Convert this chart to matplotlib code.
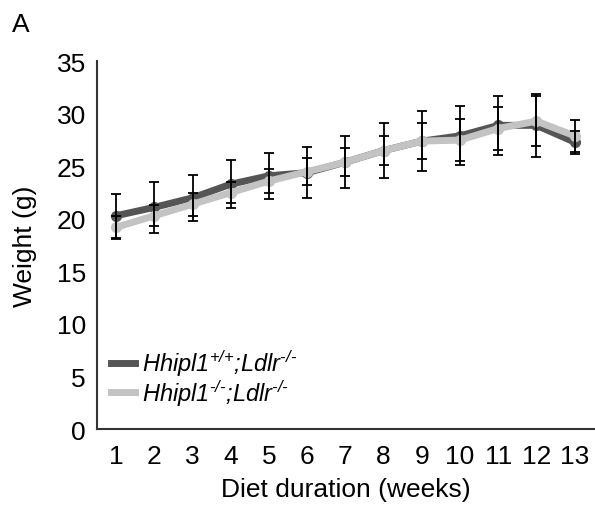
import matplotlib
matplotlib.use("Agg")
import matplotlib.pyplot as plt

weeks = list(range(1, 14))
wt_mean = [20.3, 21.1, 22.0, 23.3, 24.1, 24.4, 25.4, 26.5, 27.4, 27.9, 28.9, 28.9, 27.3]
wt_err = [2.1, 2.4, 2.2, 2.3, 2.2, 2.45, 2.5, 2.6, 2.85, 2.8, 2.8, 3.0, 1.1]
ko_mean = [19.2, 20.3, 21.4, 22.5, 23.6, 24.5, 25.4, 26.5, 27.4, 27.5, 28.6, 29.3, 27.9]
ko_err = [1.1, 1.0, 1.1, 1.0, 1.1, 1.3, 1.3, 1.4, 1.7, 2.0, 2.05, 2.4, 1.5]
labels = [r"$\text{Hhipl1}^{\text{+/+}}\text{;Ldlr}^{\text{-/-}}$",
          r"$\text{Hhipl1}^{\text{-/-}}\text{;Ldlr}^{\text{-/-}}$"]
yticks = [0, 5, 10, 15, 20, 25, 30, 35]

plt.rcParams['font.family'] = ['Liberation Sans', 'DejaVu Sans']
plt.rcParams['mathtext.fontset'] = 'custom'
plt.rcParams['mathtext.it'] = 'Liberation Sans:italic'
plt.rcParams['mathtext.rm'] = 'Liberation Sans:italic'
plt.rcParams['mathtext.default'] = 'rm'

FS = 19

fig = plt.figure(figsize=(5.95, 5.06), dpi=100)
ax = fig.add_axes([0.163, 0.150, 0.835, 0.727])

ax.plot(weeks, wt_mean, color='#555555', lw=5, marker='o', ms=7, label=labels[0], zorder=2)
ax.plot(weeks, ko_mean, color='#c3c3c3', lw=5, marker='o', ms=7, label=labels[1], zorder=3)
ax.errorbar(weeks, wt_mean, yerr=wt_err, fmt='none', ecolor='black', elinewidth=1.3, capsize=3.5, capthick=1.3, zorder=4)
ax.errorbar(weeks, ko_mean, yerr=ko_err, fmt='none', ecolor='black', elinewidth=1.3, capsize=3.5, capthick=1.3, zorder=4)

ax.set_xlim(0.5, 13.5)
ax.set_ylim(0, 35)
ax.set_xticks(weeks)
ax.set_yticks(yticks)
ax.tick_params(length=0, labelsize=FS)
ax.tick_params(axis='y', pad=8)
ax.tick_params(axis='x', pad=11)
for s in ['top', 'right']:
    ax.spines[s].set_visible(False)
for s in ['left', 'bottom']:
    ax.spines[s].set_color('#333333')
    ax.spines[s].set_linewidth(1.5)

ax.set_xlabel('Diet duration (weeks)', fontsize=FS, labelpad=6)
ax.set_ylabel('Weight (g)', fontsize=FS, labelpad=14)

leg = ax.legend(loc='lower left', bbox_to_anchor=(0.0, 0.02), frameon=False, fontsize=17,
                handlelength=1.0, handletextpad=0.3, labelspacing=-0.05, borderaxespad=0.2)
for h in leg.get_lines():
    h.set_marker('')

fig.text(0.02, 0.975, 'A', fontsize=FS, va='top', ha='left')

fig.savefig('out.png', dpi=100)
